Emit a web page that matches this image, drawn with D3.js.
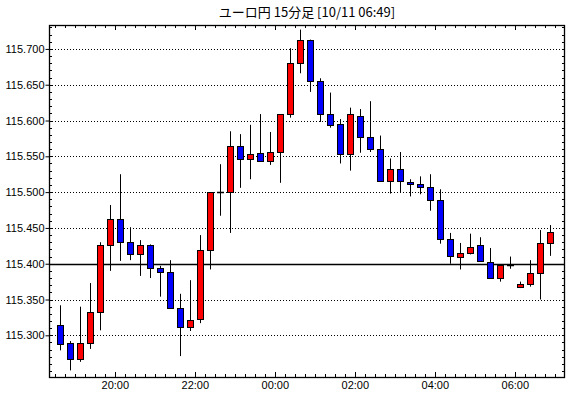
<!DOCTYPE html>
<html>
<head>
<meta charset="utf-8">
<script src="https://cdn.jsdelivr.net/npm/d3@7"></script>
<style>
  body { margin: 0; background: #fff; }
  svg { display: block; }
</style>
</head>
<body>
<svg id="chart" width="570" height="398"></svg>
<script>
// 15-minute candles, 18:30 .. 06:45
var times = ["18:30","18:45","19:00","19:15","19:30","19:45","20:00","20:15","20:30","20:45",
  "21:00","21:15","21:30","21:45","22:00","22:15","22:30","22:45","23:00","23:15",
  "23:30","23:45","00:00","00:15","00:30","00:45","01:00","01:15","01:30","01:45",
  "02:00","02:15","02:30","02:45","03:00","03:15","03:30","03:45","04:00","04:15",
  "04:30","04:45","05:00","05:15","05:30","05:45","06:00","06:15","06:30","06:45"];
var opens = [115.315,115.289,115.267,115.289,115.332,115.426,115.462,115.430,115.413,115.426,
  115.394,115.388,115.338,115.312,115.322,115.419,115.500,115.500,115.564,115.546,
  115.554,115.543,115.556,115.609,115.680,115.712,115.655,115.609,115.595,115.553,
  115.606,115.577,115.560,115.515,115.532,115.514,115.511,115.507,115.489,115.434,
  115.410,115.416,115.426,115.403,115.380,115.398,115.367,115.371,115.387,115.429];
var highs = [115.342,115.292,115.340,115.373,115.430,115.482,115.525,115.451,115.433,115.427,
  115.397,115.405,115.358,115.377,115.440,115.500,115.539,115.585,115.581,115.594,
  115.609,115.584,115.609,115.701,115.727,115.713,115.659,115.639,115.602,115.618,
  115.616,115.627,115.579,115.547,115.556,115.518,115.522,115.525,115.504,115.443,
  115.429,115.442,115.437,115.422,115.398,115.410,115.375,115.405,115.447,115.454];
var lows = [115.279,115.251,115.263,115.281,115.307,115.390,115.404,115.405,115.383,115.380,
  115.354,115.338,115.271,115.306,115.317,115.392,115.467,115.443,115.506,115.518,
  115.543,115.538,115.513,115.604,115.666,115.640,115.598,115.590,115.540,115.530,
  115.555,115.556,115.515,115.498,115.500,115.494,115.497,115.474,115.428,115.400,
  115.392,115.413,115.403,115.380,115.375,115.393,115.366,115.368,115.350,115.411];
var closes = [115.289,115.267,115.289,115.332,115.426,115.462,115.430,115.413,115.426,115.394,
  115.388,115.338,115.312,115.322,115.419,115.500,115.500,115.564,115.546,115.553,
  115.543,115.556,115.609,115.680,115.712,115.655,115.609,115.593,115.553,115.609,
  115.577,115.560,115.515,115.532,115.515,115.511,115.507,115.489,115.434,115.410,
  115.415,115.424,115.403,115.380,115.398,115.398,115.371,115.387,115.429,115.445];

var yTickValues = [115.300,115.350,115.400,115.450,115.500,115.550,115.600,115.650,115.700];
var xTickLabels = ["20:00","22:00","00:00","02:00","04:00","06:00"];
var refLine = 115.400;
var title = "ユーロ円 15分足 [10/11 06:49]";

var plotLeft = 49, plotRight = 565, plotTop = 25, plotBottom = 377;
var svg = d3.select("#chart");

// minutes since 18:00
function toMin(s) {
  var p = s.split(":");
  var m = +p[0] * 60 + +p[1] - 18 * 60;
  return m < 0 ? m + 1440 : m;
}

var x = d3.scaleLinear().domain([20.5, 794.5]).range([plotLeft, plotRight]);
var y = d3.scaleLinear().domain([115.2418, 115.7334]).range([plotBottom, plotTop]);

var candles = times.map(function (t, i) {
  return { t: toMin(t) + 7.5, o: opens[i], h: highs[i], l: lows[i], c: closes[i] };
});

function py(v) { return Math.round(y(v)) + 0.5; }
function px(v) { return Math.round(x(v)) + 0.5; }

// grid
svg.append("g")
  .selectAll("line")
  .data(yTickValues)
  .join("line")
  .attr("x1", plotLeft).attr("x2", plotRight)
  .attr("y1", function (d) { return py(d); })
  .attr("y2", function (d) { return py(d); })
  .attr("stroke", "#000")
  .attr("stroke-dasharray", "1,2");

// reference line
svg.append("line")
  .attr("x1", plotLeft).attr("x2", plotRight)
  .attr("y1", py(refLine))
  .attr("y2", py(refLine))
  .attr("stroke", "#000")
  .attr("stroke-width", 1.3);

// y axis
var yAxis = d3.axisLeft(y)
  .tickValues(yTickValues)
  .tickFormat(d3.format(".3f"))
  .tickSize(4)
  .tickPadding(1);
svg.append("g")
  .attr("transform", "translate(" + (plotLeft + 0.5) + ",0)")
  .call(yAxis)
  .call(function (g) {
    g.select(".domain").remove();
    g.selectAll("text").attr("font-family", "Liberation Sans, Arial, sans-serif").attr("font-size", 11).attr("fill", "#000");
  });

// minor y ticks inside
var minorY = d3.range(115.25, 115.731, 0.01);
svg.append("g").selectAll("line").data(minorY).join("line")
  .attr("x1", plotLeft).attr("x2", plotLeft + 3)
  .attr("y1", function (d) { return py(d); })
  .attr("y2", function (d) { return py(d); })
  .attr("stroke", "#000");
svg.append("g").selectAll("line").data(minorY).join("line")
  .attr("x1", plotRight - 3).attr("x2", plotRight)
  .attr("y1", function (d) { return py(d); })
  .attr("y2", function (d) { return py(d); })
  .attr("stroke", "#000");

// x ticks on top and bottom
var xTicks = d3.range(30, 795, 15);
function isMajor(m) { return m % 120 === 0; }
svg.append("g").selectAll("line").data(xTicks).join("line")
  .attr("x1", function (d) { return px(d); })
  .attr("x2", function (d) { return px(d); })
  .attr("y1", plotBottom)
  .attr("y2", function (d) { return plotBottom - (isMajor(d) ? 5 : 3); })
  .attr("stroke", "#000");
svg.append("g").selectAll("line").data(xTicks).join("line")
  .attr("x1", function (d) { return px(d); })
  .attr("x2", function (d) { return px(d); })
  .attr("y1", plotTop)
  .attr("y2", function (d) { return plotTop + (isMajor(d) ? 5 : 3); })
  .attr("stroke", "#000");

svg.append("g").selectAll("text").data(xTickLabels).join("text")
  .attr("x", function (d) { return x(toMin(d)); })
  .attr("y", 389)
  .attr("text-anchor", "middle")
  .attr("font-family", "Liberation Sans, Arial, sans-serif")
  .attr("font-size", 11)
  .text(function (d) { return d; });

// candles
var g = svg.append("g");
g.selectAll("line.wick").data(candles).join("line")
  .attr("class", "wick")
  .attr("x1", function (d) { return px(d.t); })
  .attr("x2", function (d) { return px(d.t); })
  .attr("y1", function (d) { return y(d.h); })
  .attr("y2", function (d) { return y(d.l); })
  .attr("stroke", "#000")
  .attr("stroke-width", 1);

var bodies = candles.filter(function (d) { return Math.abs(y(d.o) - y(d.c)) >= 1; });
var dojis = candles.filter(function (d) { return Math.abs(y(d.o) - y(d.c)) < 1; });

g.selectAll("rect").data(bodies).join("rect")
  .attr("x", function (d) { return Math.round(x(d.t)) - 2.5; })
  .attr("width", 6)
  .attr("y", function (d) { return py(Math.max(d.o, d.c)); })
  .attr("height", function (d) { return Math.max(1, Math.round(Math.abs(y(d.o) - y(d.c)))); })
  .attr("fill", function (d) { return d.c >= d.o ? "#ff0000" : "#0000ff"; })
  .attr("stroke", "#000")
  .attr("stroke-width", 1);

g.selectAll("line.doji").data(dojis).join("line")
  .attr("class", "doji")
  .attr("x1", function (d) { return Math.round(x(d.t)) - 3; })
  .attr("x2", function (d) { return Math.round(x(d.t)) + 4; })
  .attr("y1", function (d) { return py(d.c); })
  .attr("y2", function (d) { return py(d.c); })
  .attr("stroke", "#000")
  .attr("stroke-width", 1.5);

// frame
svg.append("rect")
  .attr("x", plotLeft + 0.5).attr("y", plotTop + 0.5)
  .attr("width", plotRight - plotLeft - 1).attr("height", plotBottom - plotTop)
  .attr("fill", "none")
  .attr("stroke", "#000")
  .attr("stroke-width", 1.3);

// title
svg.append("text")
  .attr("x", (plotLeft + plotRight) / 2)
  .attr("y", 17)
  .attr("text-anchor", "middle")
  .attr("font-family", "Noto Sans CJK JP, sans-serif")
  .attr("font-size", 13)
  .text(title);
</script>
</body>
</html>
